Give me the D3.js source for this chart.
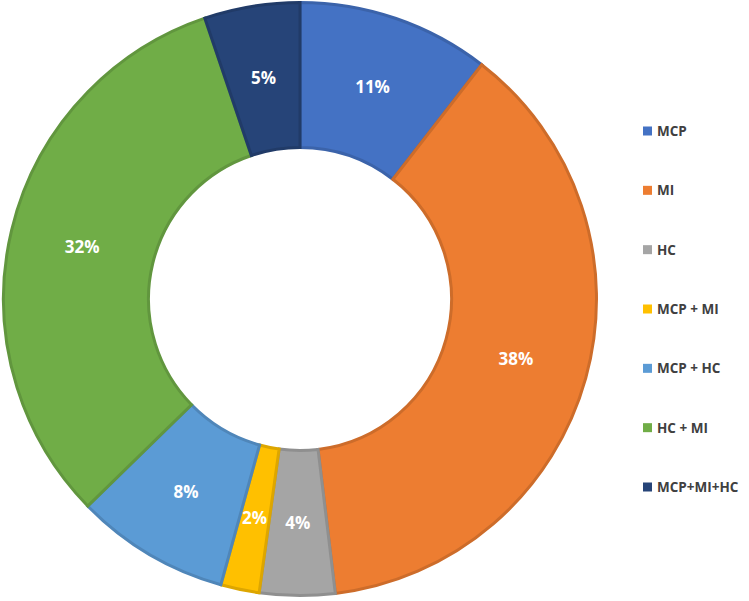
<!DOCTYPE html>
<html>
<head>
<meta charset="utf-8">
<script src="https://cdn.jsdelivr.net/npm/d3@7"></script>
<style>
  body { margin: 0; background: #fff; }
  svg { display: block; }
</style>
</head>
<body>
<svg id="chart" width="749" height="601"></svg>
<script>
// slice data (percent shares)
var categories = ["MCP", "MI", "HC", "MCP + MI", "MCP + HC", "HC + MI", "MCP+MI+HC"];
var shares = [10.5, 37.6, 4.1, 2.1, 8.4, 32.1, 5.2];
var colors = ["#4472C4", "#ED7D31", "#A5A5A5", "#FFC000", "#5B9BD5", "#70AD47", "#264478"];

var width = 749, height = 601;
var cx = 300, cy = 299, outerR = 298, innerR = 150;

var svg = d3.select("#chart");

var data = categories.map(function (c, i) {
    return { name: c, value: shares[i], color: colors[i] };
});

var pie = d3.pie()
    .sort(null)
    .value(function (d) { return d.value; });

var arc = d3.arc()
    .innerRadius(innerR + 1.5)
    .outerRadius(outerR - 1.5);

var g = svg.append("g")
    .attr("transform", "translate(" + cx + "," + cy + ")");

var slices = g.selectAll("g.slice")
    .data(pie(data))
    .enter()
    .append("g")
    .attr("class", "slice");

//slices with darker border
slices.append("path")
    .attr("d", arc)
    .attr("fill", function (d) { return d.data.color; })
    .attr("stroke", function (d) { return d3.color(d.data.color).darker(0.4); })
    .attr("stroke-width", 3)
    .attr("stroke-linejoin", "miter");

//percentage labels
slices.append("text")
    .text(function (d) { return Math.round(d.data.value) + "%"; })
    .attr("transform", function (d) { return "translate(" + arc.centroid(d) + ")"; })
    .attr("text-anchor", "middle")
    .attr("dy", "0.36em")
    .attr("fill", "#fff")
    .style("font-family", "'Open Sans', sans-serif")
    .style("font-weight", "bold")
    .style("font-size", "17px");

//legend
var legendY = d3.scalePoint()
    .domain(categories)
    .range([131, 487]);

var leg = svg.selectAll("g.legend")
    .data(data)
    .enter()
    .append("g")
    .attr("class", "legend")
    .attr("transform", function (d) { return "translate(643," + legendY(d.name) + ")"; });

leg.append("rect")
    .attr("x", 0)
    .attr("y", -4.5)
    .attr("width", 9)
    .attr("height", 9)
    .attr("fill", function (d) { return d.color; });

leg.append("text")
    .text(function (d) { return d.name; })
    .attr("x", 14)
    .attr("dy", "0.36em")
    .attr("fill", "#404040")
    .style("font-family", "'Open Sans', sans-serif")
    .style("font-weight", "bold")
    .style("font-size", "13.5px");
</script>
</body>
</html>
